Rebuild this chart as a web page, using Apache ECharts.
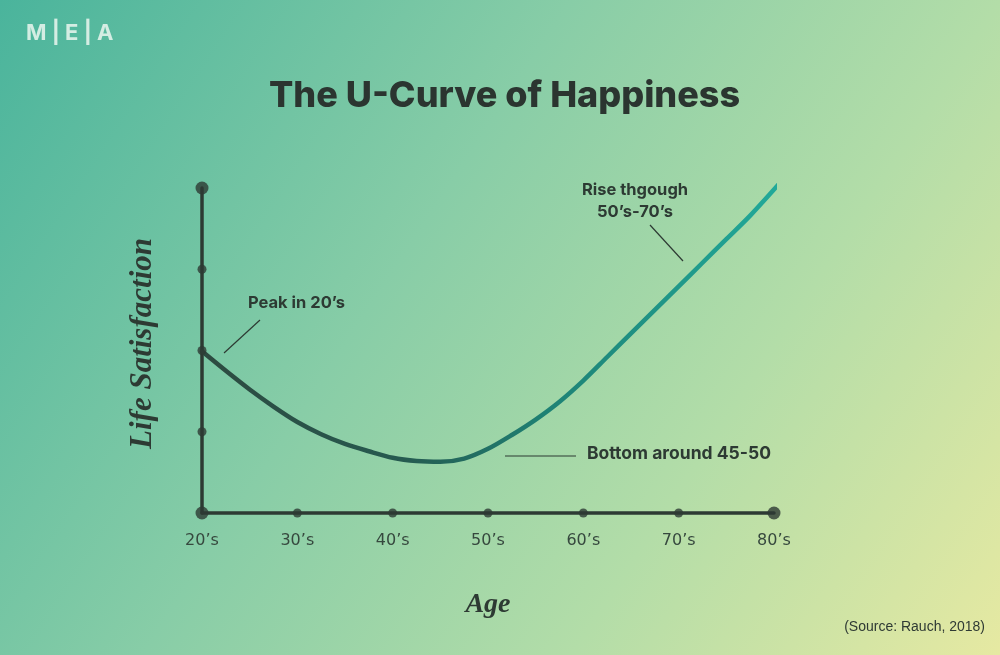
<!DOCTYPE html>
<html>
<head>
<meta charset="utf-8">
<title>The U-Curve of Happiness</title>
<script src="https://cdn.jsdelivr.net/npm/echarts@6/dist/echarts.min.js"></script>
<style>
  html, body { margin: 0; padding: 0; }
  #chart { width: 1000px; height: 655px; }
</style>
</head>
<body>
<div id="chart"></div>
<script>
// age and life satisfaction
var ages = [20, 22.5, 25, 27.5, 30, 32.5, 35, 37.5, 40, 42.5, 45, 47.5, 50,
            52.5, 55, 57.5, 60, 62.5, 65, 67.5, 70, 72.5, 75, 77.5, 80.6];
var satisfaction = [1.99, 1.75, 1.52, 1.31, 1.12, 0.97, 0.85, 0.76, 0.68, 0.64, 0.63, 0.67, 0.79,
                    0.96, 1.15, 1.37, 1.63, 1.92, 2.21, 2.50, 2.79, 3.08, 3.37, 3.66, 4.06];
var decadeTicks = [20, 30, 40, 50, 60, 70, 80];
var levelTicks = [1, 2, 3, 4];

var ink = '#2d3a33';

var chart = echarts.init(document.getElementById('chart'));

var curve = ages.map(function (a, i) { return [a, satisfaction[i]]; });
var xDots = decadeTicks.map(function (d) { return [d, 0]; });
var yDots = levelTicks.map(function (v) { return [20, v]; });

var option = {
  backgroundColor: {
    type: 'linear', x: 0, y: 0, x2: 1, y2: 1,
    colorStops: [
      { offset: 0, color: '#4ab49c' },
      { offset: 0.4, color: '#88cda7' },
      { offset: 0.7, color: '#b3dda8' },
      { offset: 1, color: '#e6e9a2' }
    ]
  },
  animation: false,
  title: {
    text: 'The U-Curve of Happiness',
    left: 264,
    top: 73,
    textStyle: {
      fontFamily: 'Inter',
      fontWeight: 800,
      fontSize: 36,
      color: '#2b3530'
    }
  },
  grid: { left: 202, right: 226, top: 188, bottom: 142 },
  xAxis: {
    type: 'value',
    min: 20, max: 80, interval: 10,
    name: 'Age',
    nameLocation: 'middle',
    nameGap: 78,
    nameTextStyle: {
      fontFamily: 'Liberation Serif',
      fontStyle: 'italic',
      fontWeight: 'bold',
      fontSize: 28,
      color: ink
    },
    axisLine: { lineStyle: { color: ink, width: 3.5 } },
    axisTick: { show: false },
    splitLine: { show: false },
    axisLabel: {
      margin: 20,
      fontFamily: 'DejaVu Sans',
      fontSize: 16,
      color: '#36483e',
      formatter: function (v) { return v + '\u2019s'; }
    }
  },
  yAxis: {
    type: 'value',
    min: 0, max: 4, interval: 1,
    name: 'Life Satisfaction',
    nameLocation: 'middle',
    nameRotate: 90,
    nameGap: 44,
    nameTextStyle: {
      fontFamily: 'Liberation Serif',
      fontStyle: 'italic',
      fontWeight: 'bold',
      fontSize: 31,
      color: ink,
      padding: [0, 0, 0, 14]
    },
    axisLine: { show: true, lineStyle: { color: ink, width: 3.5 } },
    axisTick: { show: false },
    splitLine: { show: false },
    axisLabel: { show: false }
  },
  graphic: [
    {
      type: 'text', left: 26, top: 22,
      style: { text: 'M | E | A', fontFamily: 'Inter', fontWeight: 'bold', fontSize: 22, fill: '#d4ede3' }
    },
    {
      type: 'text', left: 248, top: 295,
      style: { text: 'Peak in 20\u2019s', fontFamily: 'Inter', fontWeight: 'bold', fontSize: 16.5, fill: ink }
    },
    {
      type: 'line', shape: { x1: 260, y1: 320, x2: 224, y2: 353 },
      style: { stroke: ink, lineWidth: 1.2 }
    },
    {
      type: 'text', x: 635, y: 179,
      style: { text: 'Rise thgough\n50\u2019s-70\u2019s', align: 'center', lineHeight: 22, fontFamily: 'Inter', fontWeight: 'bold', fontSize: 16.5, fill: ink }
    },
    {
      type: 'line', shape: { x1: 650, y1: 225, x2: 683, y2: 261 },
      style: { stroke: ink, lineWidth: 1.2 }
    },
    {
      type: 'text', left: 587, top: 445,
      style: { text: 'Bottom around 45-50', fontFamily: 'Inter', fontWeight: 'bold', fontSize: 17.5, fill: ink }
    },
    {
      type: 'line', shape: { x1: 505, y1: 456, x2: 576, y2: 456 },
      style: { stroke: ink, lineWidth: 1.2 }
    },
    {
      type: 'text', right: 15, top: 620,
      style: { text: '(Source: Rauch, 2018)', fontFamily: 'Liberation Sans', fontSize: 14, fill: '#2f3a34' }
    }
  ],
  series: [
    {
      type: 'line',
      data: curve,
      smooth: 0.3,
      showSymbol: false,
      clip: false,
      z: 3,
      lineStyle: {
        width: 4.5,
        cap: 'round',
        color: {
          type: 'linear', x: 0, y: 0, x2: 1, y2: 0,
          colorStops: [
            { offset: 0, color: '#2d4a40' },
            { offset: 0.35, color: '#265a50' },
            { offset: 0.6, color: '#1e8275' },
            { offset: 1, color: '#22aa9a' }
          ]
        }
      }
    },
    {
      type: 'scatter',
      data: xDots,
      clip: false,
      z: 4,
      symbolSize: function (d) { return (d[0] === 20 || d[0] === 80) ? 13 : 9; },
      itemStyle: { color: ink }
    },
    {
      type: 'scatter',
      data: yDots,
      clip: false,
      z: 4,
      symbolSize: function (d) { return d[1] === 4 ? 13 : 9; },
      itemStyle: { color: ink }
    }
  ]
};

chart.setOption(option);
</script>
</body>
</html>
